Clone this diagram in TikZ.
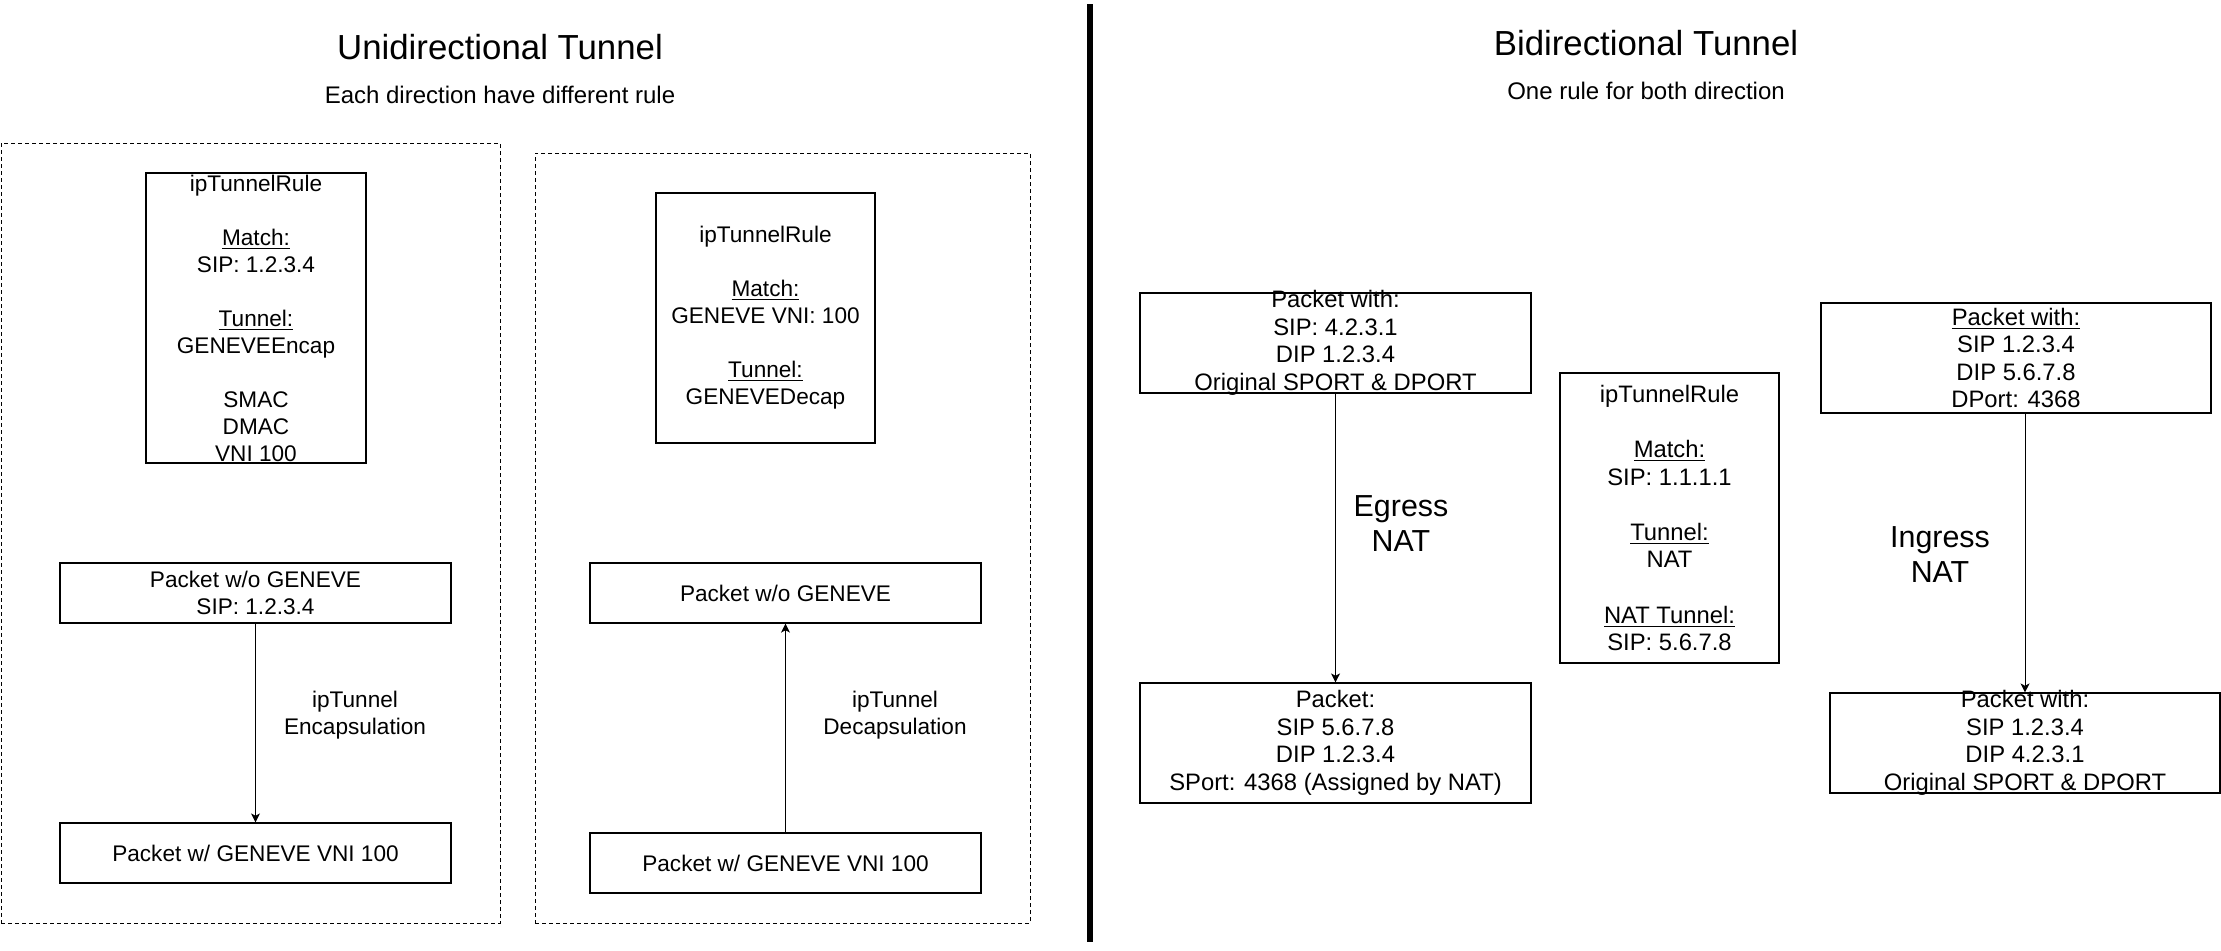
\documentclass[tikz,border=0pt]{standalone}
\usepackage{fontspec}
\setmainfont{Liberation Sans}
\usetikzlibrary{arrows.meta}
\begin{document}
\begin{tikzpicture}[x=0.5pt,y=-0.5pt,
  box/.style={draw, line width=0.6pt, inner sep=0pt},
  dashbox/.style={draw, line width=0.5pt, dash pattern=on 2pt off 1.5pt, inner sep=0pt},
  tl/.style={align=center, inner sep=0pt, font=\fontsize{11.3}{13.5}\selectfont},
  tr/.style={align=center, inner sep=0pt, font=\fontsize{11.9}{13.8}\selectfont},
  big/.style={align=center, inner sep=0pt, font=\fontsize{15.2}{17.5}\selectfont},
  ttl/.style={inner sep=0pt, font=\fontsize{17.4}{20}\selectfont},
  subt/.style={inner sep=0pt, font=\fontsize{12}{14}\selectfont},
  arr/.style={-{Stealth[length=4.5pt,width=4.5pt,inset=1.2pt]}, line width=0.5pt}
]
\useasboundingbox (0,0) rectangle (2221,950);

% titles
\node[ttl] (t1) at (500,47) {Unidirectional Tunnel};
\node[subt] (s1) at (500,95) {Each direction have different rule};
\node[ttl] (t2) at (1646,43) {Bidirectional Tunnel};
\node[subt] (s2) at (1646,91) {One rule for both direction};

% separator
\coordinate (sepA) at (1090,4);
\coordinate (sepB) at (1090,942);
\draw[line width=3pt] (sepA) -- (sepB);

% dashed groups
\node[dashbox, minimum width=249.5pt, minimum height=390pt] (g1) at (250.5,533) {};
\node[dashbox, minimum width=247.5pt, minimum height=385pt] (g2) at (782.5,538) {};

% left group
\node[box, minimum width=110pt, minimum height=145pt] (r1) at (256,318) {};
\node[tl] (r1t) at (r1) {ipTunnelRule\\[13.5pt]\underline{Match:}\\SIP: 1.2.3.4\\[13.5pt]\underline{Tunnel:}\\GENEVEEncap\\[13.5pt]SMAC\\DMAC\\VNI 100};

\node[box, minimum width=195.5pt, minimum height=30pt] (pA) at (255.5,593) {};
\node[tl] (pAt) at (pA) {Packet w/o GENEVE\\SIP: 1.2.3.4};
\node[box, minimum width=195.5pt, minimum height=30pt] (pB) at (255.5,853) {};
\node[tl] (pBt) at (pB) {Packet w/ GENEVE VNI 100};
\draw[arr] (pA.south) -- (pB.north);
\node[tl] (encl) at (355,715) {ipTunnel\\Encapsulation};

% second group
\node[box, minimum width=109.5pt, minimum height=125pt] (r2) at (765.5,318) {};
\node[tl] (r2t) at (r2) {ipTunnelRule\\[13.5pt]\underline{Match:}\\GENEVE VNI: 100\\[13.5pt]\underline{Tunnel:}\\GENEVEDecap};

\node[box, minimum width=195.5pt, minimum height=30pt] (pC) at (785.5,593) {};
\node[tl] (pCt) at (pC) {Packet w/o GENEVE};
\node[box, minimum width=195.5pt, minimum height=30pt] (pD) at (785.5,863) {};
\node[tl] (pDt) at (pD) {Packet w/ GENEVE VNI 100};
\draw[arr] (pD.north) -- (pC.south);
\node[tl] (decl) at (895,715) {ipTunnel\\Decapsulation};

% right side: egress
\node[box, minimum width=195.5pt, minimum height=50pt] (eA) at (1335.5,343) {};
\node[tr] (eAt) at (eA) {Packet with:\\SIP: 4.2.3.1\\DIP 1.2.3.4\\Original SPORT \& DPORT};
\node[box, minimum width=195.5pt, minimum height=60pt] (eB) at (1335.5,743) {};
\node[tr] (eBt) at (eB) {Packet:\\SIP 5.6.7.8\\DIP 1.2.3.4\\SPort: 4368 (Assigned by NAT)};
\draw[arr] (eA.south) -- (eB.north);
\node[big] (egl) at (1401,523.5) {Egress\\NAT};

% rule
\node[box, minimum width=109.5pt, minimum height=145pt] (r3) at (1669.5,518) {};
\node[tr] (r3t) at (r3) {ipTunnelRule\\[13.8pt]\underline{Match:}\\SIP: 1.1.1.1\\[13.8pt]\underline{Tunnel:}\\NAT\\[13.8pt]\underline{NAT Tunnel:}\\SIP: 5.6.7.8};

% ingress
\node[box, minimum width=195pt, minimum height=55pt] (iA) at (2016,358) {};
\node[tr] (iAt) at (iA) {\underline{Packet with:}\\SIP 1.2.3.4\\DIP 5.6.7.8\\DPort: 4368};
\node[box, minimum width=195pt, minimum height=50pt] (iB) at (2025,743) {};
\node[tr] (iBt) at (iB) {Packet with:\\SIP 1.2.3.4\\DIP 4.2.3.1\\Original SPORT \& DPORT};
\draw[arr] (iB.north |- iA.south) -- (iB.north);
\node[big] (inl) at (1940,554.5) {Ingress\\NAT};
\end{tikzpicture}
\end{document}
